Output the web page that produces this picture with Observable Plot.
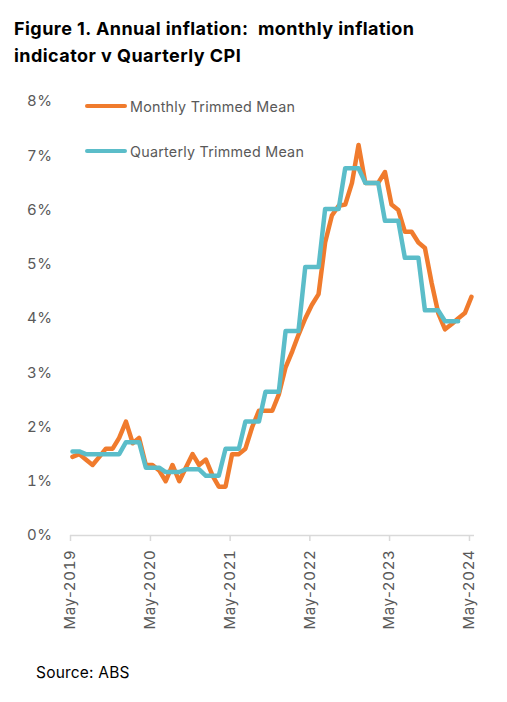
<!DOCTYPE html>
<html><head><meta charset="utf-8">
<script src="https://cdn.jsdelivr.net/npm/d3@7"></script>
<script src="https://cdn.jsdelivr.net/npm/@observablehq/plot@0.6"></script>
<style>
body{margin:0;background:#fff;}
#wrap{position:relative;width:507px;height:702px;overflow:hidden;font-family:Inter, "Open Sans", sans-serif;}
#title{position:absolute;left:14px;top:15px;font-weight:700;font-size:18px;letter-spacing:0.45px;line-height:27px;color:#000;white-space:nowrap;}
#chart{position:absolute;left:0;top:80px;}
.leg{position:absolute;left:85px;height:20px;display:flex;align-items:center;font-size:14.3px;letter-spacing:0.25px;color:#595959;white-space:nowrap;}
.leg .sw{display:inline-block;width:42px;height:4.5px;border-radius:3px;margin-right:3px;}
#source{position:absolute;left:36px;top:663px;font-size:15.5px;letter-spacing:0.2px;line-height:20px;color:#000;}
.infl g[aria-label="x-axis tick label"] text{letter-spacing:0.7px;}
.infl g[aria-label="y-axis tick label"] text{letter-spacing:0.5px;}
</style></head>
<body><div id="wrap">
<div id="title">Figure 1. Annual inflation:&nbsp; monthly inflation<br>indicator v Quarterly CPI</div>
<div id="chart"></div>
<div id="source">Source: ABS</div>
</div>
<script>
// Monthly trimmed mean, annual % change, May 2019 – May 2024
const monthlyTrimmed = [
  1.45, 1.5, 1.4, 1.3, 1.45, 1.6, 1.6, 1.8, 2.1, 1.7, 1.8, 1.3,
  1.3, 1.2, 1.0, 1.3, 1.0, 1.25, 1.5, 1.3, 1.4, 1.1, 0.9, 0.9,
  1.5, 1.5, 1.6, 2.0, 2.3, 2.3, 2.3, 2.6, 3.1, 3.4, 3.7, 4.0,
  4.25, 4.45, 5.4, 5.9, 6.08, 6.1, 6.5, 7.2, 6.5, 6.5, 6.5, 6.7,
  6.1, 6.0, 5.6, 5.6, 5.4, 5.3, 4.65, 4.1, 3.8, 3.9, 4.0, 4.1,
  4.4
];
// Quarterly trimmed mean, held across the months of each quarter, May 2019 – Mar 2024
const quarterlyTrimmed = [
  1.55, 1.55,
  1.5, 1.5, 1.5,
  1.5, 1.5, 1.5,
  1.72, 1.72, 1.72,
  1.25, 1.25, 1.25,
  1.17, 1.17, 1.17,
  1.22, 1.22, 1.22,
  1.1, 1.1, 1.1,
  1.6, 1.6, 1.6,
  2.1, 2.1, 2.1,
  2.65, 2.65, 2.65,
  3.77, 3.77, 3.77,
  4.95, 4.95, 4.95,
  6.02, 6.02, 6.02,
  6.77, 6.77, 6.77,
  6.5, 6.5, 6.5,
  5.8, 5.8, 5.8,
  5.12, 5.12, 5.12,
  4.15, 4.15, 4.15,
  3.95, 3.95, 3.95
];
const seriesNames = ["Monthly Trimmed Mean", "Quarterly Trimmed Mean"];
const seriesColors = ["#F07B2D", "#5BBDC9"];
const yTicks = [0, 1, 2, 3, 4, 5, 6, 7, 8];
const xTickLabels = ["May\u20112019", "May\u20112020", "May\u20112021", "May\u20112022", "May\u20112023", "May\u20112024"];
const xTickYears = [2019, 2020, 2021, 2022, 2023, 2024];

// one observation per month, dated early in its month
const months = d3.range(monthlyTrimmed.length).map(i => new Date(Date.UTC(2019, 4 + i, 10)));
const monthly = monthlyTrimmed.map((v, i) => ({date: months[i], value: v}));
const quarterly = quarterlyTrimmed.map((v, i) => ({date: months[i], value: v}));
const xTicks = xTickYears.map(y => new Date(Date.UTC(y, 4, 1)));

const chart = Plot.plot({
  className: "infl",
  width: 507,
  height: 570,
  marginLeft: 70,
  marginRight: 33,
  marginTop: 21,
  marginBottom: 115,
  style: {fontFamily: "Inter, 'Open Sans', sans-serif", background: "transparent", color: "#595959"},
  x: {type: "utc", domain: [new Date(Date.UTC(2019, 4, 1)), new Date(Date.UTC(2024, 4, 24))]},
  y: {domain: [0, 8]},
  marks: [
    Plot.ruleY([0], {stroke: "#d9d9d9", strokeWidth: 1.5}),
    Plot.axisY({ticks: yTicks, tickFormat: d => d + "%", tickSize: 0, tickPadding: 18, fontSize: 15, fill: "#595959", label: null}),
    Plot.axisX({ticks: xTicks, tickFormat: (d, i) => xTickLabels[i], tickRotate: -90, tickSize: 6, tickPadding: 8,
      stroke: "#d9d9d9", strokeWidth: 1.5, fill: "#595959", fontSize: 15, label: null}),
    Plot.line(monthly, {x: "date", y: "value", stroke: seriesColors[0], strokeWidth: 4.5, strokeLinejoin: "round"}),
    Plot.line(quarterly, {x: "date", y: "value", stroke: seriesColors[1], strokeWidth: 4.5, strokeLinejoin: "round"})
  ]
});
document.getElementById("chart").appendChild(chart);

const wrap = document.getElementById("wrap");
const legTops = [96, 141];
seriesNames.forEach((name, i) => {
  const d = document.createElement("div");
  d.className = "leg";
  d.style.top = legTops[i] + "px";
  d.innerHTML = `<span class="sw" style="background:${seriesColors[i]}"></span>${name}`;
  wrap.appendChild(d);
});
</script>
</body></html>
